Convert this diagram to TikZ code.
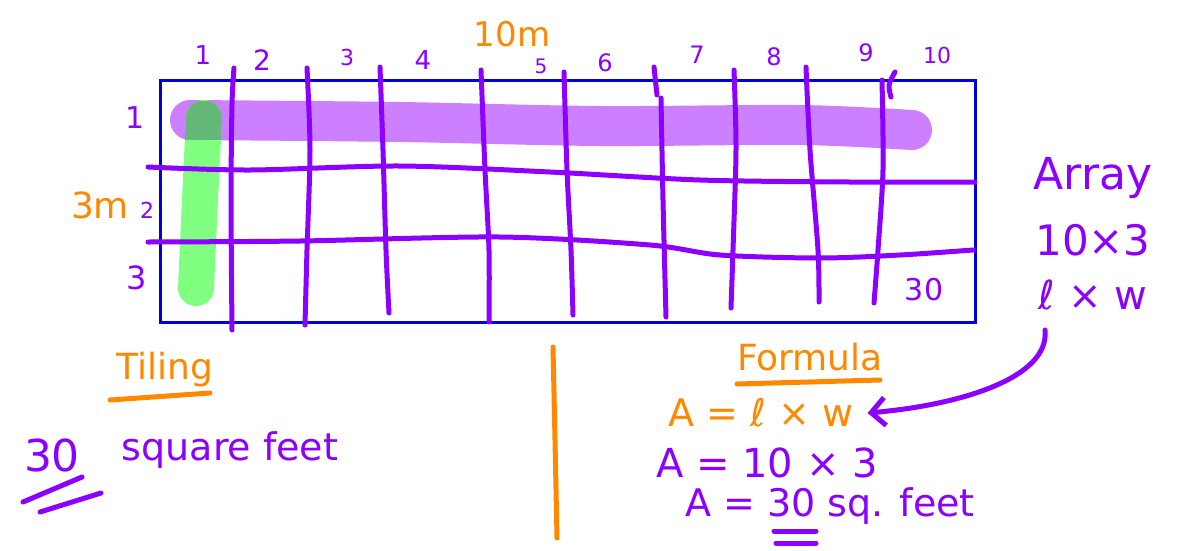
\documentclass[tikz,border=0pt]{standalone}
\usepackage{fontspec}
\setmainfont{DejaVu Sans}
\usetikzlibrary{arrows.meta}
\definecolor{pen}{RGB}{140,0,255}
\definecolor{org}{RGB}{255,136,0}
\definecolor{blu}{RGB}{0,0,220}
\definecolor{hlp}{RGB}{204,128,255}
\definecolor{hlg}{RGB}{128,255,128}
\definecolor{hlo}{RGB}{100,185,120}
\begin{document}
\begin{tikzpicture}[x=1pt,y=-1pt,
 ink/.style={draw=pen,line width=5pt,line cap=round,line join=round},
 oink/.style={draw=org,line width=5pt,line cap=round,line join=round},
 ptx/.style={text=pen,inner sep=0pt},
 otx/.style={text=org,inner sep=0pt},
 fs/.style={font=\fontsize{#1}{#1}\selectfont}]
\useasboundingbox (0,0) rectangle (1187,550);
% frame
\draw[blu,line width=3pt] (160,80) rectangle (975,322);
% highlighters
\draw[hlp,line width=40pt,line cap=round] plot[smooth] coordinates {(190,120) (400,122) (600,126) (800,125) (912,130)};
\draw[hlg,line width=36pt,line cap=round] plot[smooth] coordinates {(204,118) (200,200) (196,288)};
\begin{scope}
\clip (150,101) rectangle (250,139);
\draw[hlo,line width=36pt,line cap=round] plot[smooth] coordinates {(204,118) (200,200) (196,288)};
\end{scope}
% grid lines
\draw[ink] plot[smooth] coordinates {(234,68) (232,105) (231,200) (232,330)};
\draw[ink] plot[smooth] coordinates {(307,68) (310,150) (307,250) (305,325)};
\draw[ink] plot[smooth] coordinates {(380,67) (383,150) (386,250) (389,313)};
\draw[ink] plot[smooth] coordinates {(481,70) (485,170) (489,250) (489,322)};
\draw[ink] plot[smooth] coordinates {(564,72) (567,170) (571,250) (573,315)};
\draw[ink] (654,67) -- (657,95);
\draw[ink] plot[smooth] coordinates {(661,98) (663,200) (666,317)};
\draw[ink] plot[smooth] coordinates {(734,70) (736,150) (733,250) (731,308)};
\draw[ink] plot[smooth] coordinates {(806,67) (810,150) (818,250) (819,302)};
\draw[ink] plot[smooth] coordinates {(882,80) (883,170) (878,250) (874,303)};
\draw[ink] plot[smooth] coordinates {(895,72) (889,85) (891,97)};
\draw[ink] plot[smooth] coordinates {(148,167) (250,170) (400,166) (550,172) (700,180) (850,182) (975,182)};
\draw[ink] plot[smooth] coordinates {(148,242) (300,241) (500,237) (650,245) (720,255) (820,258) (900,255) (973,250)};
% column labels
\node[ptx,fs=26] (c1) at (203,55) {1};
\node[ptx,fs=28] (c2) at (262,60) {2};
\node[ptx,fs=22] (c3) at (347,57) {3};
\node[ptx,fs=26] (c4) at (423,60) {4};
\node[otx,fs=34] (ten) at (512,34) {10m};
\node[ptx,fs=20] (c5) at (541,66) {5};
\node[ptx,fs=24] (c6) at (605,63) {6};
\node[ptx,fs=24] (c7) at (697,55) {7};
\node[ptx,fs=24] (c8) at (774,57) {8};
\node[ptx,fs=24] (c9) at (866,53) {9};
\node[ptx,fs=22] (c10) at (937,55) {10};
% row labels
\node[ptx,fs=30] (r1) at (135,118) {1};
\node[otx,fs=36] (three) at (100,205) {3m};
\node[ptx,fs=22] (r2) at (147,210) {2};
\node[ptx,fs=32] (r3) at (137,278) {3};
\node[ptx,fs=30] (thirty) at (924,290) {30};
% array
\node[ptx,fs=44] (arr) at (1093,178) {Array};
\node[ptx,fs=42] (tx) at (1093,240) {10×3};
\node[ptx,fs=40] (lw) at (1093,295) {ℓ × w};
% tiling
\node[otx,fs=36] (til) at (165,370) {Tiling};
\draw[oink] (110,400) -- (210,393);
\node[ptx,fs=44] (t30) at (52,455) {30};
\draw[ink] (23,502) -- (82,477);
\draw[ink] (40,512) -- (101,493);
\node[ptx,fs=38] (sq) at (230,450) {square feet};
% divider
\draw[oink] (553,347) -- (555,440) -- (557,538);
% formula
\node[otx,fs=36] (form) at (810,357) {Formula};
\draw[oink] (737,384) -- (880,380);
\node[otx,fs=38] (f1) at (761,413) {A = ℓ × w};
\node[ptx,fs=40] (f2) at (767,463) {A = 10 × 3};
\node[ptx,fs=38] (f3) at (830,506) {A = 30 sq. feet};
\draw[ink] (774,531) -- (816,531);
\draw[ink] (776,543) -- (816,543);
% arrow
\coordinate (as) at (1045,330);
\draw[ink,-{Straight Barb[length=14pt,width=28pt]}] (as) .. controls (1050,378) and (960,405) .. ([xshift=14pt]f1.east);
\end{tikzpicture}
\end{document}
